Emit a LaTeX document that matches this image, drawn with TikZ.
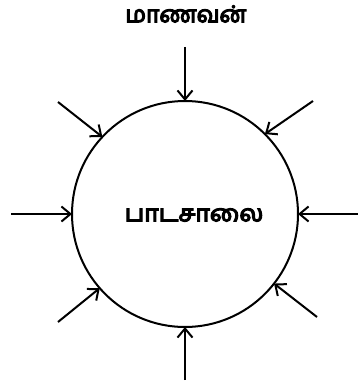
\documentclass[tikz,border=0pt]{standalone}
\usepackage{fontspec}
\newfontfamily\tamilfont[Script=Tamil,FakeBold=5]{Hind Madurai}
\usetikzlibrary{arrows.meta}
\begin{document}
\begin{tikzpicture}[x=1pt,y=-1pt,
  inarrow/.style={line width=2pt,-{Straight Barb[length=9pt,width=15pt,line width=2pt]}},
  label/.style={font=\tamilfont\fontsize{23}{27}\selectfont,inner sep=0pt}]
\useasboundingbox (0,0) rectangle (358,385);
\node[draw,circle,line width=2pt,minimum size=226pt,inner sep=0pt,outer sep=0pt] (c) at (185,214) {};
\node[label,xscale=1.08] (school) at (194,215) {பாடசாலை};
\node[label] (student) at (186,14) {மாணவன்};
\coordinate (t) at (185,47);
\coordinate (b) at (185,380);
\coordinate (l) at (11,214);
\coordinate (r) at (358,214);
\coordinate (ul) at (58,102);
\coordinate (ur) at (313,101);
\coordinate (ll) at (58,322);
\coordinate (lr) at (317,317);
\draw[inarrow] (t) -- (c.90);
\draw[inarrow] (b) -- (c.270);
\draw[inarrow] (l) -- (c.180);
\draw[inarrow] (r) -- (c.0);
\draw[inarrow] (ul) -- (c.137.5);
\draw[inarrow] (ur) -- (c.45.7);
\draw[inarrow] (ll) -- (c.221.7);
\draw[inarrow] (lr) -- (c.322);
\end{tikzpicture}
\end{document}
